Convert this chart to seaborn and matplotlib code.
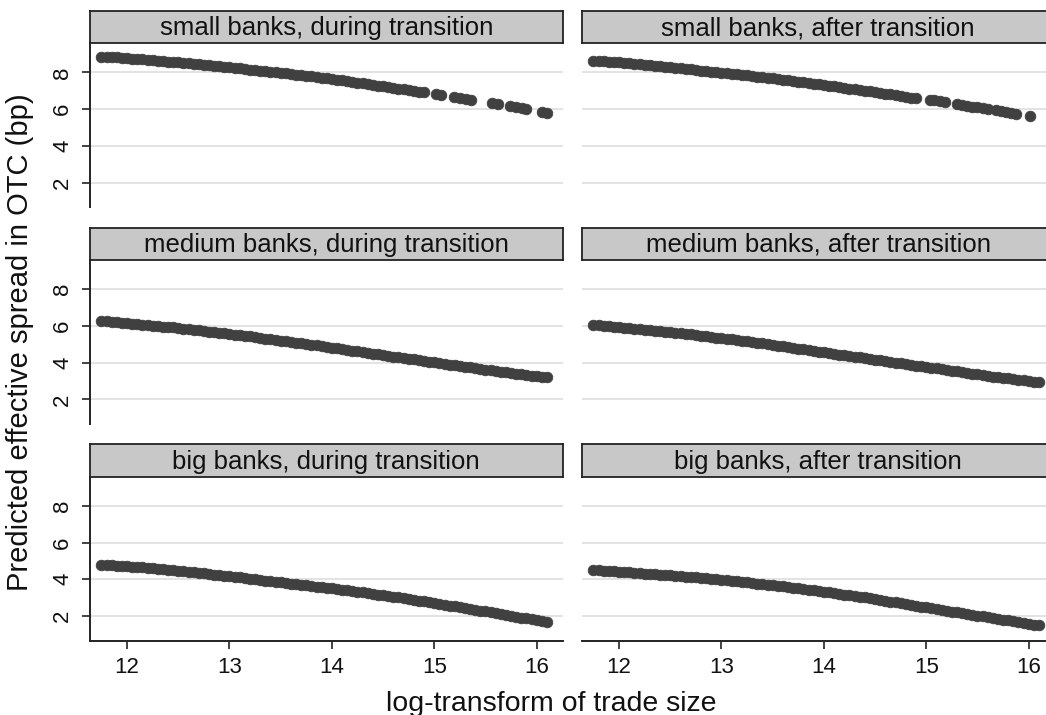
import matplotlib
matplotlib.use("Agg")
import matplotlib.pyplot as plt
import seaborn as sns
import pandas as pd

# ---------------- data ----------------
panel_titles = [
    "small banks, during transition", "small banks, after transition",
    "medium banks, during transition", "medium banks, after transition",
    "big banks, during transition", "big banks, after transition",
]

# log trade size at which predictions were read (dense part of each panel)
trade_size = [11.75, 11.80, 11.85, 11.90, 11.95, 12.00, 12.05, 12.10, 12.15, 12.20,
              12.25, 12.30, 12.35, 12.40, 12.45, 12.50, 12.55, 12.60, 12.65, 12.70,
              12.75, 12.80, 12.85, 12.90, 12.95, 13.00, 13.05, 13.10, 13.15, 13.20,
              13.25, 13.30, 13.35, 13.40, 13.45, 13.50, 13.55, 13.60, 13.65, 13.70,
              13.75, 13.80, 13.85, 13.90, 13.95, 14.00, 14.05, 14.10, 14.15, 14.20,
              14.25, 14.30, 14.35, 14.40, 14.45, 14.50, 14.55, 14.60, 14.65, 14.70,
              14.75, 14.80, 14.85, 14.90, 14.95, 15.00, 15.05, 15.10, 15.15, 15.20,
              15.25, 15.30, 15.35, 15.40, 15.45, 15.50, 15.55, 15.60, 15.65, 15.70,
              15.75, 15.80, 15.85, 15.90, 15.95, 16.00, 16.05, 16.10]

# small banks: dense band up to 14.90, then sparse clusters
x_small_during_tail = [15.02, 15.07, 15.19, 15.25, 15.31, 15.36, 15.56, 15.62,
                       15.74, 15.80, 15.86, 15.90, 16.05, 16.10]
y_small_during = [8.86, 8.85, 8.83, 8.81, 8.79, 8.77, 8.75, 8.73, 8.71, 8.69,
                  8.66, 8.64, 8.61, 8.59, 8.57, 8.55, 8.52, 8.50, 8.47, 8.44,
                  8.41, 8.39, 8.36, 8.33, 8.30, 8.27, 8.24, 8.21, 8.18, 8.15,
                  8.12, 8.09, 8.06, 8.03, 8.00, 7.97, 7.94, 7.91, 7.88, 7.85,
                  7.81, 7.78, 7.74, 7.71, 7.67, 7.64, 7.60, 7.56, 7.52, 7.48,
                  7.44, 7.40, 7.36, 7.32, 7.28, 7.24, 7.20, 7.16, 7.12, 7.08,
                  7.03, 6.99, 6.95, 6.91,
                  6.80, 6.76, 6.64, 6.60, 6.55, 6.51, 6.32, 6.27,
                  6.17, 6.11, 6.05, 6.01, 5.83, 5.78]

x_small_after_tail = [15.04, 15.08, 15.13, 15.18, 15.30, 15.35, 15.40, 15.45,
                      15.50, 15.55, 15.60, 15.68, 15.73, 15.78, 15.83, 15.88, 16.01]
y_small_after = [8.64, 8.62, 8.60, 8.58, 8.56, 8.54, 8.51, 8.49, 8.46, 8.44,
                 8.41, 8.39, 8.36, 8.33, 8.30, 8.28, 8.25, 8.22, 8.19, 8.16,
                 8.13, 8.10, 8.07, 8.04, 8.01, 7.98, 7.95, 7.92, 7.89, 7.86,
                 7.83, 7.80, 7.77, 7.74, 7.70, 7.67, 7.63, 7.60, 7.56, 7.53,
                 7.49, 7.46, 7.42, 7.39, 7.35, 7.32, 7.28, 7.24, 7.20, 7.16,
                 7.12, 7.08, 7.04, 7.00, 6.96, 6.92, 6.88, 6.84, 6.80, 6.76,
                 6.72, 6.68, 6.63, 6.59,
                 6.50, 6.47, 6.43, 6.40, 6.27, 6.22, 6.18, 6.14,
                 6.10, 6.06, 6.01, 5.95, 5.90, 5.85, 5.80, 5.76, 5.62]

y_medium_during = [6.26, 6.24, 6.21, 6.19, 6.16, 6.14, 6.11, 6.09, 6.06, 6.04,
                   6.01, 5.99, 5.96, 5.94, 5.91, 5.88, 5.85, 5.82, 5.79, 5.76,
                   5.72, 5.69, 5.66, 5.63, 5.59, 5.56, 5.52, 5.49, 5.45, 5.42,
                   5.38, 5.34, 5.30, 5.27, 5.23, 5.20, 5.16, 5.12, 5.08, 5.04,
                   5.00, 4.97, 4.93, 4.89, 4.85, 4.81, 4.77, 4.73, 4.69, 4.65,
                   4.61, 4.57, 4.53, 4.49, 4.45, 4.41, 4.37, 4.33, 4.29, 4.25,
                   4.21, 4.17, 4.13, 4.09, 4.05, 4.01, 3.97, 3.93, 3.89, 3.85,
                   3.81, 3.78, 3.74, 3.70, 3.66, 3.62, 3.58, 3.54, 3.50, 3.47,
                   3.43, 3.40, 3.36, 3.33, 3.29, 3.26, 3.22, 3.19]
y_medium_after = [6.04, 6.02, 5.99, 5.97, 5.94, 5.92, 5.89, 5.87, 5.84, 5.82,
                  5.79, 5.77, 5.74, 5.71, 5.68, 5.65, 5.62, 5.59, 5.56, 5.53,
                  5.49, 5.46, 5.43, 5.40, 5.36, 5.33, 5.29, 5.26, 5.22, 5.19,
                  5.15, 5.11, 5.07, 5.04, 5.00, 4.96, 4.92, 4.88, 4.84, 4.80,
                  4.76, 4.72, 4.68, 4.64, 4.60, 4.56, 4.52, 4.48, 4.44, 4.40,
                  4.36, 4.32, 4.28, 4.24, 4.20, 4.16, 4.12, 4.08, 4.04, 4.00,
                  3.96, 3.92, 3.88, 3.84, 3.80, 3.76, 3.72, 3.68, 3.64, 3.60,
                  3.56, 3.52, 3.48, 3.44, 3.40, 3.36, 3.32, 3.28, 3.24, 3.21,
                  3.17, 3.14, 3.10, 3.07, 3.03, 3.00, 2.97, 2.94]
y_big_during = [4.80, 4.79, 4.77, 4.75, 4.73, 4.71, 4.69, 4.67, 4.65, 4.63,
                4.60, 4.58, 4.55, 4.53, 4.50, 4.47, 4.44, 4.41, 4.38, 4.35,
                4.32, 4.29, 4.26, 4.23, 4.20, 4.17, 4.13, 4.10, 4.07, 4.04,
                4.00, 3.97, 3.93, 3.90, 3.86, 3.83, 3.80, 3.77, 3.73, 3.70,
                3.67, 3.64, 3.60, 3.57, 3.53, 3.50, 3.47, 3.44, 3.40, 3.36,
                3.32, 3.29, 3.25, 3.21, 3.17, 3.13, 3.09, 3.05, 3.01, 2.97,
                2.93, 2.89, 2.84, 2.80, 2.75, 2.71, 2.66, 2.62, 2.57, 2.53,
                2.48, 2.44, 2.39, 2.35, 2.30, 2.25, 2.20, 2.16, 2.11, 2.06,
                2.01, 1.97, 1.92, 1.87, 1.82, 1.78, 1.73, 1.68]
y_big_after = [4.50, 4.49, 4.47, 4.45, 4.43, 4.41, 4.39, 4.37, 4.35, 4.33,
               4.31, 4.29, 4.27, 4.25, 4.23, 4.21, 4.19, 4.17, 4.14, 4.12,
               4.10, 4.08, 4.05, 4.03, 4.00, 3.98, 3.95, 3.92, 3.89, 3.86,
               3.83, 3.80, 3.77, 3.74, 3.71, 3.68, 3.64, 3.61, 3.57, 3.54,
               3.50, 3.47, 3.43, 3.40, 3.36, 3.33, 3.29, 3.25, 3.21, 3.17,
               3.13, 3.09, 3.05, 3.01, 2.96, 2.92, 2.87, 2.83, 2.78, 2.74,
               2.69, 2.65, 2.60, 2.56, 2.51, 2.47, 2.42, 2.38, 2.33, 2.29,
               2.24, 2.20, 2.15, 2.11, 2.07, 2.03, 1.98, 1.94, 1.89, 1.85,
               1.80, 1.76, 1.72, 1.68, 1.63, 1.59, 1.54, 1.50]

x_ticks = [12, 13, 14, 15, 16]
y_ticks = [2, 4, 6, 8]
x_label = "log-transform of trade size"
y_label = "Predicted effective spread in OTC (bp)"

x_small_during = trade_size[:64] + x_small_during_tail
x_small_after = trade_size[:64] + x_small_after_tail
panel_x = [x_small_during, x_small_after, trade_size, trade_size, trade_size, trade_size]
panel_y = [y_small_during, y_small_after, y_medium_during, y_medium_after,
           y_big_during, y_big_after]

frames = []
for title, xs, ys in zip(panel_titles, panel_x, panel_y):
    frames.append(pd.DataFrame({"panel": title, "size": xs, "spread": ys}))
df = pd.concat(frames, ignore_index=True)

# ---------------- styling / layout ----------------
sns.set_theme(style="white")
plt.rcParams['font.family'] = ['Liberation Sans', 'DejaVu Sans']

W, H = 1046, 715
fig = plt.figure(figsize=(W / 100, H / 100), dpi=100)
fig.patch.set_facecolor("white")


def frac(x0, top, w, h):
    return [x0 / W, 1 - (top + h) / H, w / W, h / H]


col_x = [89.7, 581.7]
ax_w = 473.0
row_pitch = 216.7
head_top0 = 11.0
head_h = 32.3
ax_top0 = 43.3
ax_h = 164.0

XLIM = (11.635, 16.254)
YLIM = (0.66, 9.58)
dark = "#404040"
spine_c = "#222222"

for i, title in enumerate(panel_titles):
    r, c = divmod(i, 2)
    x0 = col_x[c]
    # header strip
    hax = fig.add_axes(frac(x0, head_top0 + r * row_pitch, ax_w, head_h))
    hax.set_facecolor("#c8c8c8")
    hax.set_xticks([])
    hax.set_yticks([])
    for s in hax.spines.values():
        s.set_visible(True)
        s.set_color(spine_c)
        s.set_linewidth(1.3)
    hax.text(0.5, 0.47, title, ha="center", va="center", fontsize=18.5,
             color="#111111", transform=hax.transAxes)

    ax = fig.add_axes(frac(x0, ax_top0 + r * row_pitch, ax_w, ax_h))
    sub = df[df["panel"] == title]
    sns.scatterplot(data=sub, x="size", y="spread", ax=ax, color=dark,
                    s=58, edgecolor=dark, linewidth=0.6, legend=False, zorder=3)
    ax.set_xlim(*XLIM)
    ax.set_ylim(*YLIM)
    ax.set_yticks(y_ticks)
    ax.set_xticks(x_ticks)
    ax.grid(False)
    for yv in y_ticks:
        ax.axhline(yv, color="#e3e3e3", linewidth=1.4, zorder=1)
    for s in ["top", "right"]:
        ax.spines[s].set_visible(False)
    ax.spines["left"].set_visible(c == 0)
    ax.spines["bottom"].set_visible(r == 2)
    ax.spines["left"].set_color(spine_c)
    ax.spines["bottom"].set_color(spine_c)
    ax.spines["left"].set_linewidth(1.4)
    ax.spines["bottom"].set_linewidth(1.4)
    ax.set_xlabel("")
    ax.set_ylabel("")
    ax.tick_params(axis="y", left=(c == 0), labelleft=(c == 0), length=6,
                   width=1.2, color=spine_c, pad=6, labelsize=16, labelcolor="#111111")
    ax.tick_params(axis="x", bottom=(r == 2), labelbottom=(r == 2), length=6,
                   width=1.2, color=spine_c, pad=6, labelsize=16, labelcolor="#111111")
    if c == 0:
        for lab in ax.get_yticklabels():
            lab.set_rotation(90)
            lab.set_va("center")
    ax.patch.set_alpha(0)

fig.text(551 / W, 1 - 704 / H, x_label, ha="center", va="center", fontsize=20.5,
         color="#111111")
fig.text(20 / W, 1 - 342 / H, y_label, ha="center", va="center", rotation=90,
         fontsize=21, color="#111111")

fig.savefig("out.png", dpi=100, facecolor="white")
